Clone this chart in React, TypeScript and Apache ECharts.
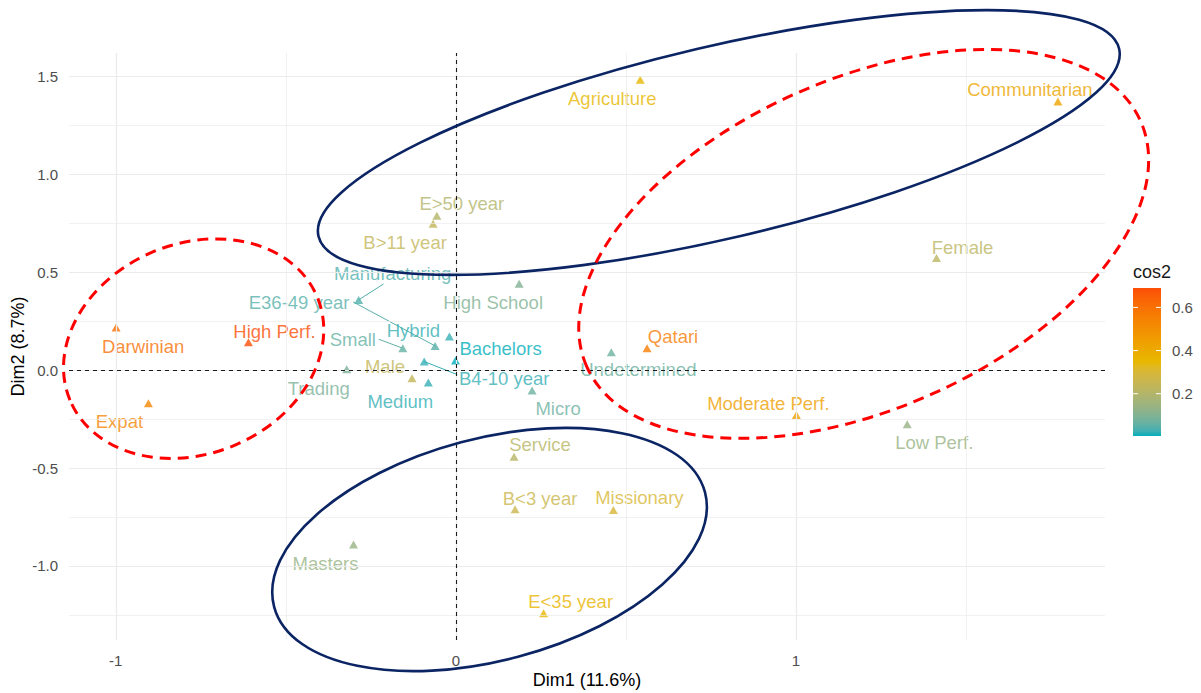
import React, { useEffect, useRef } from "react";
import * as echarts from "echarts";

// Category coordinates on the first two MCA dimensions and their quality of representation
const categories = [
  "Agriculture", "Communitarian", "E>50 year", "B>11 year", "Female", "High School",
  "Manufacturing", "Hybrid", "E36-49 year", "Small", "B4-10 year", "Bachelors",
  "Trading", "Male", "Medium", "Micro", "Darwinian", "High Perf.", "Expat", "Qatari",
  "Undetermined", "Moderate Perf.", "Low Perf.", "Service", "B<3 year", "Missionary",
  "Masters", "E<35 year",
];
const dim1 = [
  0.542, 1.770, -0.056, -0.067, 1.413, 0.186,
  -0.286, -0.019, -0.061, -0.156, -0.093, -0.001,
  -0.321, -0.129, -0.081, 0.224, -0.999, -0.610, -0.904, 0.562,
  0.457, 1.001, 1.327, 0.171, 0.174, 0.463,
  -0.301, 0.258,
];
const dim2 = [
  1.484, 1.373, 0.789, 0.748, 0.573, 0.441,
  0.359, 0.172, 0.124, 0.112, 0.044, 0.049,
  0.005, -0.041, -0.063, -0.104, 0.218, 0.143, -0.169, 0.112,
  0.092, -0.229, -0.276, -0.442, -0.711, -0.714,
  -0.890, -1.242,
];
const cos2 = [
  0.35, 0.42, 0.2, 0.24, 0.22, 0.1,
  0.04, 0.02, 0.045, 0.06, 0.02, 0.004,
  0.09, 0.24, 0.02, 0.07, 0.6, 0.69, 0.53, 0.56,
  0.07, 0.44, 0.14, 0.21, 0.26, 0.3,
  0.14, 0.36,
];

const xMajorTicks = [-1, 0, 1];
const xMinorTicks = [-0.5, 0.5, 1.5];
const yMajorTicks = [-1, -0.5, 0, 0.5, 1, 1.5];
const yMinorTicks = [-1.25, -0.75, -0.25, 0.25, 0.75, 1.25];
const legendTicks = [0.2, 0.4, 0.6];
const gradientColors = ["#00AFBB", "#E7B800", "#FC4E07"];

// Label placement (pixel offsets from the marker), repelled style
const labelOffsets: Record<string, [number, number]> = {
  Agriculture: [-28, 19],
  Communitarian: [-28, -12],
  "E>50 year": [25, -12],
  "B>11 year": [-28, 19],
  Female: [26, -11],
  "High School": [-26, 19],
  Manufacturing: [34, -26],
  Hybrid: [-36, -6],
  "E36-49 year": [-136, -43],
  Small: [-50, -9],
  "B4-10 year": [80, 17],
  Bachelors: [45, -12],
  Trading: [-28, 19],
  Male: [-27, -12],
  Medium: [-28, 19],
  Micro: [26, 18],
  Darwinian: [27, 19],
  "High Perf.": [26, -11],
  Expat: [-29, 18],
  Qatari: [26, -12],
  Undetermined: [27, 17],
  "Moderate Perf.": [-28, -12],
  "Low Perf.": [27, 18],
  Service: [26, -12],
  "B<3 year": [25, -11],
  Missionary: [26, -12],
  Masters: [-28, 19],
  "E<35 year": [27, -12],
};

// Segments joining displaced labels to their markers (pixel offsets of the label end)
const connectorEnds: Record<string, [number, number]> = {
  Manufacturing: [25, -16],
  "E36-49 year": [-82, -44],
  Small: [-24, -9],
  "B4-10 year": [33, 13],
};

// Highlighted groups: centre in data units, radii in pixels, tilt in degrees
const groupEllipses = [
  { cx: 0.773, cy: 1.163, rx: 411, ry: 96, angle: 13.2, color: "#0B2463", dashed: false },
  { cx: 0.099, cy: -0.916, rx: 223, ry: 111, angle: 14.9, color: "#0B2463", dashed: false },
  { cx: -0.771, cy: 0.11, rx: 134, ry: 105, angle: 22.6, color: "#FF0000", dashed: true },
  { cx: 1.199, cy: 0.645, rx: 303, ry: 165, angle: 23.9, color: "#FF0000", dashed: true },
];

// ---- colour scale interpolated in CIE Lab space ----
function hexToRgb(h: string) {
  const n = parseInt(h.slice(1), 16);
  return [(n >> 16) & 255, (n >> 8) & 255, n & 255];
}
function toLinear(c: number) {
  c /= 255;
  return c <= 0.04045 ? c / 12.92 : Math.pow((c + 0.055) / 1.055, 2.4);
}
function fromLinear(c: number) {
  const v = c <= 0.0031308 ? 12.92 * c : 1.055 * Math.pow(c, 1 / 2.4) - 0.055;
  return Math.max(0, Math.min(255, Math.round(v * 255)));
}
function rgbToLab(rgb: number[]) {
  const [r, g, b] = rgb.map(toLinear);
  const X = (0.4124564 * r + 0.3575761 * g + 0.1804375 * b) / 0.95047;
  const Y = 0.2126729 * r + 0.7151522 * g + 0.072175 * b;
  const Z = (0.0193339 * r + 0.119192 * g + 0.9503041 * b) / 1.08883;
  const f = (t: number) => (t > 0.008856 ? Math.cbrt(t) : 7.787 * t + 16 / 116);
  const fx = f(X), fy = f(Y), fz = f(Z);
  return [116 * fy - 16, 500 * (fx - fy), 200 * (fy - fz)];
}
function labToHex(lab: number[]) {
  const fy = (lab[0] + 16) / 116;
  const fx = lab[1] / 500 + fy;
  const fz = fy - lab[2] / 200;
  const inv = (f: number) => (f * f * f > 0.008856 ? f * f * f : (f - 16 / 116) / 7.787);
  const X = inv(fx) * 0.95047, Y = inv(fy), Z = inv(fz) * 1.08883;
  const r = 3.2404542 * X - 1.5371385 * Y - 0.4985314 * Z;
  const g = -0.969266 * X + 1.8760108 * Y + 0.041556 * Z;
  const b = 0.0556434 * X - 0.2040259 * Y + 1.0572252 * Z;
  return "#" + [r, g, b].map((c) => fromLinear(c).toString(16).padStart(2, "0")).join("");
}
const labStops = gradientColors.map((c) => rgbToLab(hexToRgb(c)));
const cosMin = Math.min(...cos2);
const cosMax = Math.max(...cos2);
function colorFor(v: number) {
  const t = Math.max(0, Math.min(1, (v - cosMin) / (cosMax - cosMin)));
  const seg = Math.min(labStops.length - 2, Math.floor(t * (labStops.length - 1)));
  const lt = t * (labStops.length - 1) - seg;
  const a = labStops[seg], b = labStops[seg + 1];
  return labToHex([0, 1, 2].map((i) => a[i] + (b[i] - a[i]) * lt));
}

function expand(values: number[]) {
  const lo = Math.min(...values), hi = Math.max(...values);
  const pad = (hi - lo) * 0.05;
  return [lo - pad, hi + pad];
}

const FONT = "Liberation Sans, Arial, sans-serif";

export default function App() {
  const ref = useRef<HTMLDivElement>(null);

  useEffect(() => {
    if (!ref.current) return;
    const chart = echarts.init(ref.current, null, { renderer: "svg" });
    const [xMin, xMax] = expand(dim1);
    const [yMin, yMax] = expand(dim2);

    const points = categories.map((name, i) => {
      const color = colorFor(cos2[i]);
      return {
        name,
        value: [dim1[i], dim2[i], cos2[i]],
        itemStyle: { color },
        label: { color },
      };
    });

    const connectorNames = Object.keys(connectorEnds);
    const connectorData = connectorNames.map((name) => {
      const i = categories.indexOf(name);
      return [dim1[i], dim2[i], connectorEnds[name][0], connectorEnds[name][1]];
    });
    const connectorColors = connectorNames.map((name) => colorFor(cos2[categories.indexOf(name)]));

    const gridLine = (axis: "xAxis" | "yAxis", v: number, major: boolean) => ({
      [axis]: v,
      lineStyle: { color: "#EBEBEB", width: major ? 1.2 : 0.7, type: "solid" },
    });
    const zeroStyle = { color: "#1a1a1a", width: 1.1, type: [4, 4] };

    // colour bar legend
    const barX = 1133, barTop = 288, barW = 28, barH = 148;
    const barY = (v: number) => barTop + barH - ((v - cosMin) / (cosMax - cosMin)) * barH;
    const colorStops = Array.from({ length: 31 }, (_, k) => {
      const off = k / 30;
      return { offset: off, color: colorFor(cosMax - off * (cosMax - cosMin)) };
    });
    const legendElements: any[] = [
      {
        type: "text",
        x: barX,
        y: barTop - 16,
        style: { text: "cos2", fontSize: 18, fontFamily: FONT, fill: "#1a1a1a", verticalAlign: "middle" },
      },
      {
        type: "rect",
        shape: { x: barX, y: barTop, width: barW, height: barH },
        style: {
          fill: { type: "linear", x: 0, y: 0, x2: 0, y2: 1, colorStops },
        },
      },
    ];
    legendTicks.forEach((v) => {
      const y = barY(v);
      legendElements.push(
        { type: "line", shape: { x1: barX, y1: y, x2: barX + 5, y2: y }, style: { stroke: "#fff", lineWidth: 1 } },
        { type: "line", shape: { x1: barX + barW - 5, y1: y, x2: barX + barW, y2: y }, style: { stroke: "#fff", lineWidth: 1 } },
        {
          type: "text",
          x: barX + barW + 11,
          y,
          style: { text: v.toFixed(1), fontSize: 15, fontFamily: FONT, fill: "#4D4D4D", verticalAlign: "middle" },
        }
      );
    });

    chart.setOption({
      animation: false,
      backgroundColor: "#ffffff",
      grid: { left: 69, right: 96, top: 53, bottom: 53, containLabel: false, outerBoundsMode: "none" },
      xAxis: {
        type: "value",
        min: xMin,
        max: xMax,
        name: "Dim1 (11.6%)",
        nameLocation: "middle",
        nameGap: 31,
        nameMoveOverlap: false,
        nameTextStyle: { fontSize: 18, fontFamily: FONT, color: "#000" },
        axisLine: { show: false },
        axisTick: { show: true, customValues: xMajorTicks, length: 5, lineStyle: { color: "#333" } },
        axisLabel: {
          customValues: xMajorTicks,
          fontSize: 15,
          fontFamily: FONT,
          color: "#4D4D4D",
          margin: 13,
          formatter: (v: number) => String(Math.round(v)),
        },
        splitLine: { show: false },
      },
      yAxis: {
        type: "value",
        min: yMin,
        max: yMax,
        name: "Dim2 (8.7%)",
        nameLocation: "middle",
        nameGap: 42,
        nameMoveOverlap: false,
        nameRotate: 90,
        nameTextStyle: { fontSize: 18, fontFamily: FONT, color: "#000" },
        axisLine: { show: false },
        axisTick: { show: true, customValues: yMajorTicks, length: 5, lineStyle: { color: "#333" } },
        axisLabel: {
          customValues: yMajorTicks,
          fontSize: 15,
          fontFamily: FONT,
          color: "#4D4D4D",
          margin: 11,
          formatter: (v: number) => v.toFixed(1),
        },
        splitLine: { show: false },
      },
      series: [
        {
          type: "scatter",
          data: [],
          silent: true,
          z: 0,
          markLine: {
            silent: true,
            symbol: "none",
            label: { show: false },
            animation: false,
            data: [
              ...xMinorTicks.map((v) => gridLine("xAxis", v, false)),
              ...yMinorTicks.map((v) => gridLine("yAxis", v, false)),
              ...xMajorTicks.map((v) => gridLine("xAxis", v, true)),
              ...yMajorTicks.map((v) => gridLine("yAxis", v, true)),
            ],
          },
        },
        {
          type: "scatter",
          data: [],
          silent: true,
          z: 1,
          markLine: {
            silent: true,
            symbol: "none",
            label: { show: false },
            animation: false,
            data: [
              { xAxis: 0, lineStyle: zeroStyle },
              { yAxis: 0, lineStyle: zeroStyle },
            ],
          },
        },
        {
          type: "custom",
          z: 2,
          silent: true,
          data: connectorData,
          renderItem: (params: any, api: any) => {
            const p = api.coord([api.value(0), api.value(1)]);
            return {
              type: "line",
              shape: { x1: p[0], y1: p[1], x2: p[0] + api.value(2), y2: p[1] + api.value(3) },
              style: { stroke: connectorColors[params.dataIndex], lineWidth: 1 },
            };
          },
        },
        {
          type: "scatter",
          z: 3,
          symbol: "triangle",
          symbolSize: [9, 8],
          data: points,
          label: {
            show: true,
            position: "inside",
            formatter: "{b}",
            fontSize: 18.5,
            fontFamily: FONT,
            textBorderWidth: 0,
          },
          labelLayout: (params: any) => {
            const off = labelOffsets[categories[params.dataIndex]] || [0, -12];
            return { dx: off[0], dy: off[1], hideOverlap: false };
          },
        },
      ],
      graphic: legendElements,
    });

    // overlay ellipses around the groups, anchored on data coordinates
    const ellipses = groupEllipses.map((e) => {
      const c = chart.convertToPixel({ gridIndex: 0 }, [e.cx, e.cy]) as number[];
      return {
        type: "ellipse",
        x: c[0],
        y: c[1],
        rotation: (e.angle * Math.PI) / 180,
        shape: { cx: 0, cy: 0, rx: e.rx, ry: e.ry },
        z: 100,
        style: {
          fill: "none",
          stroke: e.color,
          lineWidth: e.dashed ? 3 : 2.6,
          lineDash: e.dashed ? [11, 7] : null,
        },
      };
    });
    chart.setOption({ graphic: [...legendElements, ...ellipses] });

    return () => chart.dispose();
  }, []);

  return (
    <div
      ref={ref}
      style={{ position: "fixed", left: 0, top: 0, width: 1201, height: 693, background: "#fff" }}
    />
  );
}
